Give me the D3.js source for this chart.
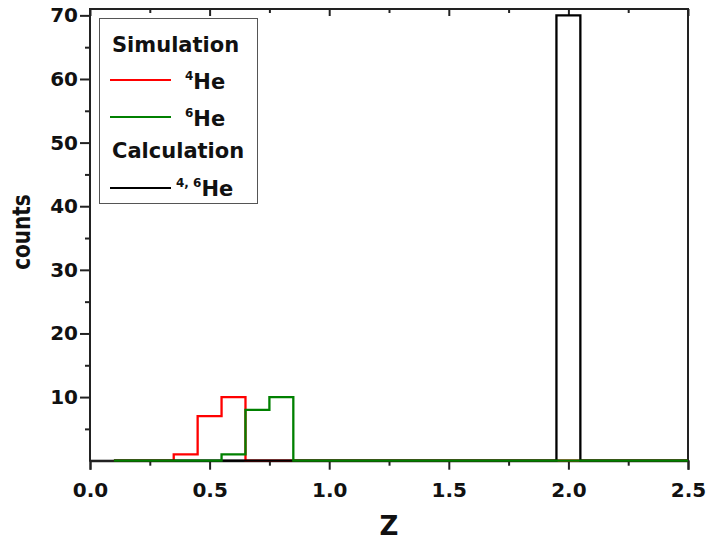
<!DOCTYPE html>
<html>
<head>
    <meta charset="utf-8">
    <style>
        body {
            margin: 0;
            background: #fff;
        }

        svg text {
            font-family: "DejaVu Sans", sans-serif;
            font-weight: bold;
            fill: #111;
        }

        .axis .domain {
            stroke: #222;
            stroke-width: 2px;
        }

        .axis .tick line {
            stroke: #222;
            stroke-width: 2px;
        }

        .axis .tick text {
            font-size: 20px;
        }

        .legend text {
            font-size: 21px;
        }

        .legend .sup {
            font-size: 12px;
        }
    </style>
</head>

<body>
    <svg width="709" height="540"></svg>
</body>

<script src="https://d3js.org/d3.v7.min.js"></script>

<script>
    // bin centres (Z) and counts
    let zBins = [0.1, 0.2, 0.3, 0.4, 0.5, 0.6, 0.7, 0.8, 0.9, 1.0,
                 1.1, 1.2, 1.3, 1.4, 1.5, 1.6, 1.7, 1.8, 1.9, 2.0,
                 2.1, 2.2, 2.3, 2.4, 2.5]

    let he4Sim = [0, 0, 0, 1, 7, 10, 0, 0, 0, 0,
                  0, 0, 0, 0, 0, 0, 0, 0, 0, 0,
                  0, 0, 0, 0, 0]

    let he6Sim = [0, 0, 0, 0, 0, 1, 8, 10, 0, 0,
                  0, 0, 0, 0, 0, 0, 0, 0, 0, 0,
                  0, 0, 0, 0, 0]

    let calc46 = [0, 0, 0, 0, 0, 0, 0, 0, 0, 0,
                  0, 0, 0, 0, 0, 0, 0, 0, 0, 70,
                  0, 0, 0, 0, 0]

    let xTicks = [0, 0.5, 1.0, 1.5, 2.0, 2.5]
    let xMinor = [0.25, 0.75, 1.25, 1.75, 2.25]
    let yTicks = [10, 20, 30, 40, 50, 60, 70]
    let yMinor = [5, 15, 25, 35, 45, 55, 65]

    let svg = d3.select("svg")

    let margin = { top: 9, right: 21, bottom: 79.3, left: 90 }
    let width = 709
    let height = 540

    let x = d3.scaleLinear()
        .domain([0, 2.5])
        .range([margin.left, width - margin.right])

    let y = d3.scaleLinear()
        .domain([0, 71])
        .range([height - margin.bottom, margin.top])

    // frame
    svg.append("rect")
        .attr("x", x(0))
        .attr("y", y(71))
        .attr("width", x(2.5) - x(0))
        .attr("height", y(0) - y(71))
        .attr("fill", "none")
        .attr("stroke", "#222")
        .attr("stroke-width", 2)

    // axes
    svg.append("g")
        .attr("class", "x axis")
        .attr("transform", `translate(0,${y(0)})`)
        .call(d3.axisBottom(x).tickValues(xTicks).tickSize(9).tickPadding(13)
            .tickFormat(d3.format(".1f")))

    svg.append("g")
        .attr("class", "x axis minor")
        .attr("transform", `translate(0,${y(0)})`)
        .call(d3.axisBottom(x).tickValues(xMinor).tickSize(5).tickFormat(""))
        .call(g => g.select(".domain").remove())

    svg.append("g")
        .attr("class", "x axis top")
        .attr("transform", `translate(0,${y(71)})`)
        .call(d3.axisTop(x).tickValues(xTicks).tickSize(-7).tickFormat(""))
        .call(g => g.select(".domain").remove())

    svg.append("g")
        .attr("class", "x axis top")
        .attr("transform", `translate(0,${y(71)})`)
        .call(d3.axisTop(x).tickValues(xMinor).tickSize(-4).tickFormat(""))
        .call(g => g.select(".domain").remove())

    svg.append("g")
        .attr("class", "y axis")
        .attr("transform", `translate(${x(0)},0)`)
        .call(d3.axisLeft(y).tickValues(yTicks).tickSize(10).tickPadding(2))
        .call(g => g.select(".domain").remove())

    svg.append("g")
        .attr("class", "y axis minor")
        .attr("transform", `translate(${x(0)},0)`)
        .call(d3.axisLeft(y).tickValues(yMinor).tickSize(5).tickFormat(""))
        .call(g => g.select(".domain").remove())

    // histograms as step lines (green drawn last, it covers the baseline)
    let series = [
        { name: "he4", values: he4Sim, color: "#ff0000" },
        { name: "calc", values: calc46, color: "#000000" },
        { name: "he6", values: he6Sim, color: "#008000" }
    ]

    let line = d3.line()
        .x((d, i) => x(zBins[i]))
        .y(d => y(d))
        .curve(d3.curveStep)

    svg.append("g")
        .attr("class", "steps")
        .selectAll("path")
        .data(series)
        .join("path")
        .attr("fill", "none")
        .attr("stroke", d => d.color)
        .attr("stroke-width", 2.3)
        .attr("d", d => line(d.values))

    // axis titles
    svg.append("text")
        .attr("x", (x(0) + x(2.5)) / 2)
        .attr("y", 535)
        .attr("text-anchor", "middle")
        .style("font-size", "26px")
        .text("Z")

    svg.append("text")
        .attr("transform", "translate(30,232) rotate(-90) scale(1,1.25)")
        .attr("text-anchor", "middle")
        .style("font-size", "20px")
        .text("counts")

    // legend
    let legend = svg.append("g").attr("class", "legend")

    legend.append("rect")
        .attr("x", 99.5)
        .attr("y", 18.5)
        .attr("width", 158)
        .attr("height", 185)
        .attr("fill", "#fff")
        .attr("stroke", "#555")
        .attr("stroke-width", 1)

    legend.append("text").attr("x", 112).attr("y", 52).text("Simulation")
    legend.append("text").attr("x", 112).attr("y", 158).text("Calculation")

    let entries = [
        { sup: "4", color: "#ff0000", ly: 80, ty: 89, sx: 185 },
        { sup: "6", color: "#008000", ly: 117, ty: 126, sx: 185 },
        { sup: "4, 6", color: "#000000", ly: 188, ty: 196, sx: 176 }
    ]

    entries.forEach(function (e) {
        legend.append("line")
            .attr("x1", 110).attr("x2", 171)
            .attr("y1", e.ly).attr("y2", e.ly)
            .attr("stroke", e.color)
            .attr("stroke-width", 2)

        let t = legend.append("text").attr("x", e.sx).attr("y", e.ty)
        t.append("tspan").attr("class", "sup").attr("dy", -9).text(e.sup)
        t.append("tspan").attr("dy", 9).text("He")
    })
</script>
</html>
